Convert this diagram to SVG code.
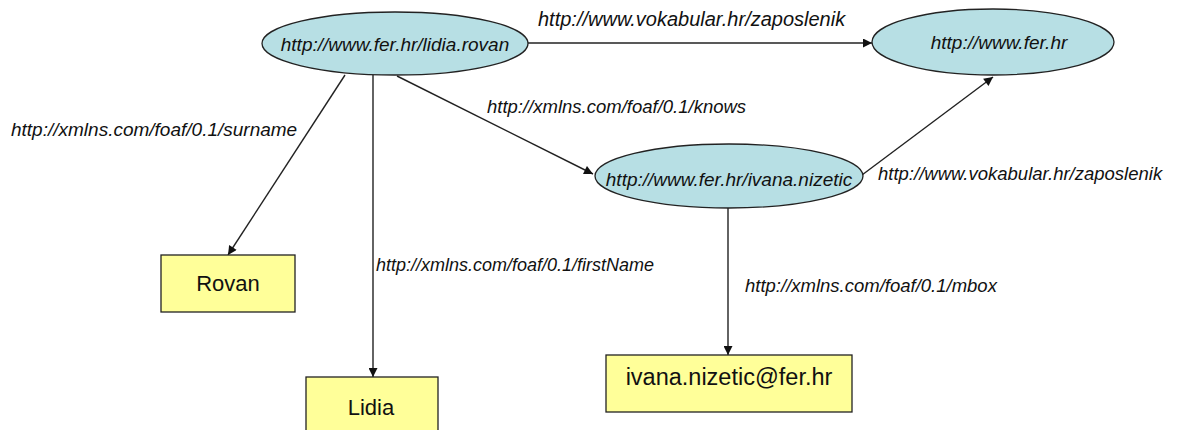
<svg xmlns="http://www.w3.org/2000/svg" width="1177" height="430" viewBox="0 0 1177 430">
<style>
.res{fill:#b7dfe4;stroke:#222;stroke-width:1.3}
.lit{fill:#ffff99;stroke:#222;stroke-width:1.3}
.nt{font-family:"Liberation Sans",Arial,sans-serif;font-style:italic;font-size:19px;fill:#111;text-anchor:middle}
.lt{font-family:"Liberation Sans",Arial,sans-serif;font-size:22px;fill:#111;text-anchor:middle}
.el{font-family:"Liberation Sans",Arial,sans-serif;font-style:italic;font-size:18.5px;fill:#111}
.edge{stroke:#222;stroke-width:1.4;fill:none;marker-end:url(#arr)}
</style>
<defs>
<marker id="arr" viewBox="0 0 10 10" refX="10" refY="5" markerWidth="10" markerHeight="9" markerUnits="userSpaceOnUse" orient="auto">
<path d="M0,0 L10,5 L0,10 z" fill="#111"/>
</marker>
</defs>
<rect width="1177" height="430" fill="#fff"/>
<g id="connectors">
<line class="edge" x1="528" y1="43" x2="872" y2="43"/>
<line class="edge" x1="345" y1="75" x2="228" y2="255"/>
<line class="edge" x1="373" y1="75" x2="373" y2="377"/>
<line class="edge" x1="397" y1="76" x2="593" y2="174"/>
<line class="edge" x1="862" y1="175" x2="993" y2="77"/>
<line class="edge" x1="728" y1="208" x2="728" y2="355"/>
<text class="el" x="538" y="26" style="font-size:20px">http://www.vokabular.hr/zaposlenik</text>
<text class="el" x="11" y="136" style="font-size:19px">http://xmlns.com/foaf/0.1/surname</text>
<text class="el" x="487" y="113">http://xmlns.com/foaf/0.1/knows</text>
<text class="el" x="376" y="271" style="font-size:18px">http://xmlns.com/foaf/0.1/firstName</text>
<text class="el" x="878" y="180">http://www.vokabular.hr/zaposlenik</text>
<text class="el" x="745" y="292">http://xmlns.com/foaf/0.1/mbox</text>
</g>
<g id="n-lidia-rovan">
<ellipse class="res" cx="395" cy="43.5" rx="133" ry="31.5"/>
<text class="nt" x="395" y="51">http://www.fer.hr/lidia.rovan</text>
</g>
<g id="n-fer">
<ellipse class="res" cx="993" cy="42" rx="121" ry="33"/>
<text class="nt" x="999" y="49">http://www.fer.hr</text>
</g>
<g id="n-ivana">
<ellipse class="res" cx="729" cy="176" rx="134" ry="32"/>
<text class="nt" x="729" y="186">http://www.fer.hr/ivana.nizetic</text>
</g>
<g id="n-rovan">
<rect class="lit" x="161" y="255" width="134" height="57"/>
<text class="lt" x="228" y="291">Rovan</text>
</g>
<g id="n-lidia">
<rect class="lit" x="306" y="377" width="132" height="57"/>
<text class="lt" x="371" y="415">Lidia</text>
</g>
<g id="n-mbox">
<rect class="lit" x="606" y="355" width="246" height="57"/>
<text class="lt" x="729" y="385" style="font-size:23.5px">ivana.nizetic@fer.hr</text>
</g>
</svg>
